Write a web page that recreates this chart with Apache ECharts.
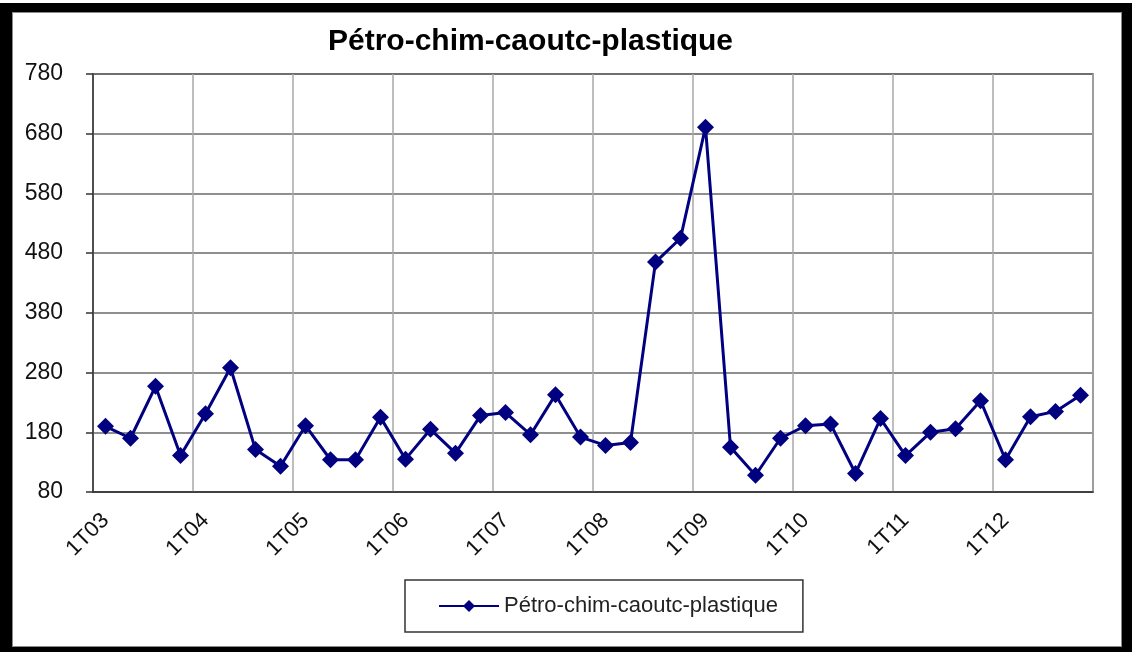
<!DOCTYPE html>
<html>
<head>
<meta charset="utf-8">
<title>Pétro-chim-caoutc-plastique</title>
<script src="https://cdn.jsdelivr.net/npm/echarts@6/dist/echarts.min.js"></script>
<style>
  html, body { margin: 0; padding: 0; background: #ffffff; }
  #paper {
    position: absolute; left: 0; top: 3px; width: 1132px; height: 649px;
    box-sizing: border-box; background: #ffffff;
    border-style: solid; border-color: #000000;
    border-width: 9px 10px 5px 12px;
    box-shadow: inset 0 0 0 1px #8a8a8a;
  }
  #chart { position: absolute; left: 0; top: 0; width: 1132px; height: 652px; }
</style>
</head>
<body>
<div id="paper"></div>
<div id="chart"></div>
<script>
// Quarterly series, 1T03 .. 4T12
const categories = [
  '1T03','2T03','3T03','4T03',
  '1T04','2T04','3T04','4T04',
  '1T05','2T05','3T05','4T05',
  '1T06','2T06','3T06','4T06',
  '1T07','2T07','3T07','4T07',
  '1T08','2T08','3T08','4T08',
  '1T09','2T09','3T09','4T09',
  '1T10','2T10','3T10','4T10',
  '1T11','2T11','3T11','4T11',
  '1T12','2T12','3T12','4T12'
];
const seriesName = 'Pétro-chim-caoutc-plastique';
const values = [
  190, 170, 257, 141,
  211, 288, 151, 123,
  191, 134, 134, 205,
  135, 185, 145, 208,
  213, 176, 243, 172,
  158, 163, 465, 505,
  691, 155, 108, 170,
  191, 194, 111, 203,
  141, 180, 186, 233,
  134, 206, 215, 242
];
const yMin = 80, yMax = 780, yStep = 100;

const chart = echarts.init(document.getElementById('chart'), null, { renderer: 'canvas' });
chart.setOption({
  backgroundColor: 'transparent',
  animation: false,
  title: {
    text: seriesName,
    left: 323, top: 22,
    textStyle: { fontFamily: 'Liberation Sans, Arial, sans-serif', fontSize: 30, fontWeight: 'bold', color: '#000' }
  },
  legend: {
    data: [seriesName],
    left: 405, top: 580,
    padding: [15, 25, 15, 33],
    itemWidth: 60, itemHeight: 15, itemGap: 5,
    borderColor: '#333', borderWidth: 1.5, borderRadius: 0,
    textStyle: { fontFamily: 'Liberation Sans, Arial, sans-serif', fontSize: 22, color: '#222' }
  },
  grid: {
    left: 93, right: 39, top: 74, bottom: 160,
    show: true, borderColor: '#555', borderWidth: 1.5
  },
  xAxis: {
    type: 'category',
    data: categories,
    boundaryGap: true,
    axisLine: { lineStyle: { color: '#333', width: 1.5 } },
    axisTick: { interval: 3, length: 7, lineStyle: { color: '#333', width: 1.5 } },
    axisLabel: {
      interval: 3, rotate: 45, margin: 25,
      fontFamily: 'Liberation Sans, Arial, sans-serif', fontSize: 22, color: '#111'
    },
    splitLine: { show: true, interval: 3, lineStyle: { color: '#a8a8a8', width: 1.5 } }
  },
  yAxis: {
    type: 'value',
    min: yMin, max: yMax, interval: yStep,
    axisLine: { show: true, lineStyle: { color: '#333', width: 1.5 } },
    axisTick: { show: true, length: 7, lineStyle: { color: '#333', width: 1.5 } },
    axisLabel: { margin: 30, fontFamily: 'Liberation Sans, Arial, sans-serif', fontSize: 23, color: '#111' },
    splitLine: { show: true, lineStyle: { color: '#6a6a6a', width: 1.5 } }
  },
  series: [{
    name: seriesName,
    type: 'line',
    data: values,
    symbol: 'diamond',
    symbolSize: 17,
    showAllSymbol: true,
    lineStyle: { color: '#000080', width: 3 },
    itemStyle: { color: '#000080', borderWidth: 0 }
  }]
});
</script>
</body>
</html>
